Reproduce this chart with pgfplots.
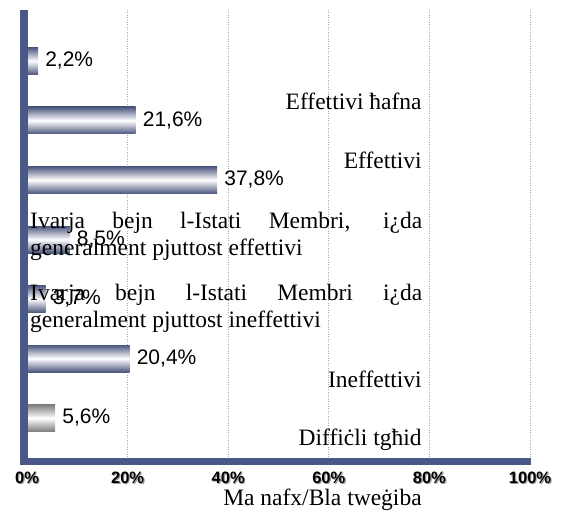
\documentclass[border=0pt]{standalone}
\usepackage{pgfplots}
\pgfplotsset{compat=1.18}
\usepackage{fontspec}
\setmainfont{Liberation Serif}
\newfontfamily\arial{Liberation Sans}
\definecolor{axblue}{RGB}{74,88,136}
\definecolor{bardark}{RGB}{76,86,126}
\definecolor{bargray}{RGB}{125,125,125}
\definecolor{gridc}{RGB}{165,165,210}
\pgfplotsset{
  barbase/.style={xbar, bar width=27pt, draw=none, middle color=white,
    nodes near coords, point meta=explicit symbolic,
    nodes near coords style={font=\arial\fontsize{21}{24}\selectfont, anchor=west, inner sep=0pt, xshift=7pt, text=black}},
  bluebar/.style={top color=bardark, bottom color=bardark, barbase},
  graybar/.style={top color=bargray, bottom color=bargray, barbase},
}
\begin{document}
\begin{tikzpicture}
\useasboundingbox (-27pt,-50.5pt) rectangle (534pt,461.5pt);
\begin{axis}[
  at={(0,0)}, anchor=south west,
  scale only axis, width=503pt, height=451.5pt,
  xmin=0, xmax=100, ymin=-0.731, ymax=6.857,
  clip=false,
  axis x line*=bottom, axis y line*=left,
  axis line style={draw=none},
  ytick=\empty,
  xtick={0,20,40,60,80,100},
  xticklabels={0\%,20\%,40\%,60\%,80\%,100\%},
  major tick length=0pt,
  tick style={draw=none},
  xmajorgrids=true,
  grid style={dotted, gridc, line width=0.8pt},
  xticklabel style={font=\arial\bfseries\fontsize{16.5}{18}\selectfont, text=black!40, inner sep=0pt, anchor=north, yshift=-11.7pt, xshift=1.2pt},
  extra x ticks={0,20,40,60,80,100},
  extra x tick labels={0\%,20\%,40\%,60\%,80\%,100\%},
  extra x tick style={grid=none, xticklabel style={text=black, xshift=-1.2pt, yshift=1.2pt}},
]
\addplot[bluebar] coordinates {(2.2,6)[2,2\%]};
\addplot[bluebar] coordinates {(21.6,5)[21,6\%]};
\addplot[bluebar] coordinates {(37.8,4)[37,8\%]};
\addplot[bluebar] coordinates {(8.5,3)[8,5\%]};
\addplot[bluebar] coordinates {(3.7,2)[3,7\%]};
\addplot[bluebar] coordinates {(20.4,1)[20,4\%]};
\addplot[graybar] coordinates {(5.6,0)[5,6\%]};
\draw[axblue, line width=8pt] (axis cs:-0.6,-0.731) -- (axis cs:-0.6,6.857);
\draw[axblue, line width=7pt] (axis cs:-1.39,-0.731) -- (axis cs:100.2,-0.731);
\begin{scope}[every node/.style={font=\fontsize{23.5}{27}\selectfont, inner sep=0pt}]
\node[anchor=base east] at (axis cs:78.5,5.177) {Effettivi ħafna};
\node[anchor=base east] at (axis cs:78.5,4.185) {Effettivi};
\node[anchor=base west, text width=392pt, align=justify] at (axis cs:0.6,3.193) {Ivarja bejn l-Istati Membri, i¿da\linebreak generalment pjuttost effettivi};
\node[anchor=base west, text width=392pt, align=justify] at (axis cs:0.6,1.983) {Ivarja bejn l-Istati Membri i¿da\linebreak generalment pjuttost ineffettivi};
\node[anchor=base east] at (axis cs:78.5,0.521) {Ineffettivi};
\node[anchor=base east] at (axis cs:78.5,-0.454) {Diffiċli tgħid};
\node[anchor=base east] at (axis cs:78.5,-1.462) {Ma nafx/Bla tweġiba};
\end{scope}
\end{axis}
\end{tikzpicture}
\end{document}
